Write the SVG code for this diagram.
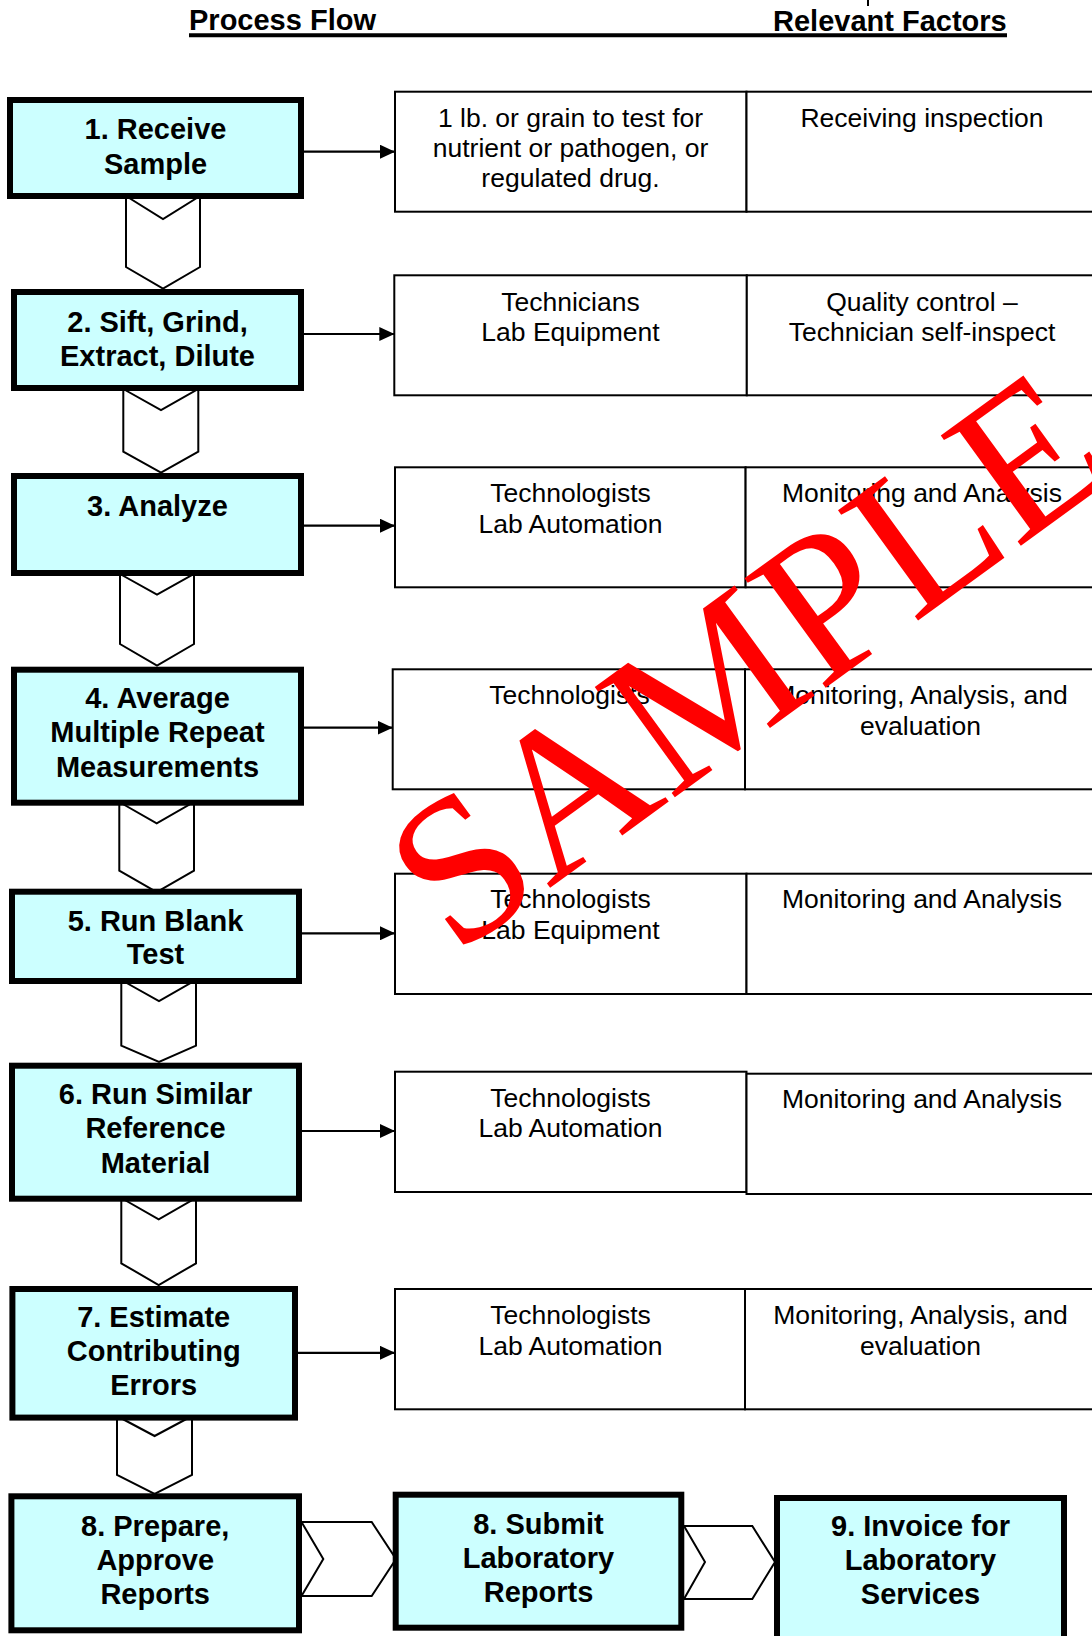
<svg xmlns="http://www.w3.org/2000/svg" width="1092" height="1636" viewBox="0 0 1092 1636">
<style>
.hd{font-family:"Liberation Sans",Arial,sans-serif;font-weight:bold;font-size:29px;fill:#000}
.bx{fill:#CCFFFF;stroke:#000;stroke-width:6}
.bt{font-family:"Liberation Sans",Arial,sans-serif;font-weight:bold;font-size:29px;fill:#000;text-anchor:middle}
.cell{fill:#fff;stroke:#000;stroke-width:2}
.ct{font-family:"Liberation Sans",Arial,sans-serif;font-size:26.5px;fill:#000;text-anchor:middle}
.chev{fill:#fff;stroke:#000;stroke-width:2;stroke-linejoin:miter}
.arr{stroke:#000;stroke-width:2.2;fill:none;marker-end:url(#ah)}
.wm{font-family:"Liberation Serif","Times New Roman",serif;font-size:208px;fill:#FF0000}
</style>
<defs>
<marker id="ah" viewBox="0 0 15 14" refX="15" refY="7" markerWidth="15" markerHeight="14" markerUnits="userSpaceOnUse" orient="auto">
<path d="M0,0 L15,7 L0,14 z" fill="#000"/>
</marker>
</defs>
<rect width="1092" height="1636" fill="#fff"/>

<g id="header">
<text class="hd" x="189" y="29.5">Process Flow</text>
<text class="hd" x="773" y="30.5">Relevant Factors</text>
<line x1="189" y1="35.3" x2="1007" y2="35.3" stroke="#000" stroke-width="4"/>
<line x1="868" y1="0" x2="868" y2="6" stroke="#000" stroke-width="2"/>
</g>

<g id="factors">
<g id="row1">
<rect class="cell" x="395" y="91.7" width="351.5" height="120"/>
<rect class="cell" x="746.5" y="91.7" width="360" height="120"/>
<text class="ct" x="570.5" y="127">1 lb. or grain to test for</text>
<text class="ct" x="570.5" y="157">nutrient or pathogen, or</text>
<text class="ct" x="570.5" y="187">regulated drug.</text>
<text class="ct" x="922" y="127">Receiving inspection</text>
</g>
<g id="row2">
<rect class="cell" x="394.3" y="275.3" width="352.5" height="120"/>
<rect class="cell" x="746.8" y="275.3" width="360" height="120"/>
<text class="ct" x="570.5" y="310.6">Technicians</text>
<text class="ct" x="570.5" y="341.3">Lab Equipment</text>
<text class="ct" x="922" y="310.6">Quality control –</text>
<text class="ct" x="922" y="341.3">Technician self-inspect</text>
</g>
<g id="row3">
<rect class="cell" x="395" y="467.3" width="350.6" height="120"/>
<rect class="cell" x="745.6" y="467.3" width="360" height="120"/>
<text class="ct" x="570.5" y="502.3">Technologists</text>
<text class="ct" x="570.5" y="533.3">Lab Automation</text>
<text class="ct" x="922" y="502.3">Monitoring and Analysis</text>
</g>
<g id="row4">
<rect class="cell" x="392.7" y="669.3" width="352.3" height="120"/>
<rect class="cell" x="745" y="669.3" width="360" height="120"/>
<text class="ct" x="569.5" y="704">Technologists</text>
<text class="ct" x="920.5" y="704">Monitoring, Analysis, and</text>
<text class="ct" x="920.5" y="735">evaluation</text>
</g>
<g id="row5">
<rect class="cell" x="395" y="873.7" width="351.5" height="120.3"/>
<rect class="cell" x="746.5" y="873.7" width="360" height="120.3"/>
<text class="ct" x="570.5" y="908.3">Technologists</text>
<text class="ct" x="570.5" y="939.3">Lab Equipment</text>
<text class="ct" x="922" y="908.3">Monitoring and Analysis</text>
</g>
<g id="row6">
<rect class="cell" x="395" y="1071.7" width="351.5" height="120.3"/>
<rect class="cell" x="746.5" y="1073.7" width="360" height="120.3"/>
<text class="ct" x="570.5" y="1106.7">Technologists</text>
<text class="ct" x="570.5" y="1137">Lab Automation</text>
<text class="ct" x="922" y="1108.3">Monitoring and Analysis</text>
</g>
<g id="row7">
<rect class="cell" x="395" y="1289" width="350" height="120.3"/>
<rect class="cell" x="745" y="1289" width="360" height="120.3"/>
<text class="ct" x="570.5" y="1324.3">Technologists</text>
<text class="ct" x="570.5" y="1355">Lab Automation</text>
<text class="ct" x="920.5" y="1324.3">Monitoring, Analysis, and</text>
<text class="ct" x="920.5" y="1355">evaluation</text>
</g>
</g>

<g id="connectors">
<line class="arr" x1="304" y1="151.7" x2="395" y2="151.7"/>
<line class="arr" x1="304" y1="334" x2="394.3" y2="334"/>
<line class="arr" x1="304" y1="525.7" x2="395" y2="525.7"/>
<line class="arr" x1="304" y1="727.7" x2="392.7" y2="727.7"/>
<line class="arr" x1="302" y1="933.3" x2="395" y2="933.3"/>
<line class="arr" x1="302" y1="1131" x2="395" y2="1131"/>
<line class="arr" x1="298" y1="1352.8" x2="395" y2="1352.8"/>
<polygon class="chev" points="126,196 163,219 200,196 200,267 163,288.5 126,267"/>
<polygon class="chev" points="123.3,389 161,410 198.3,389 198.3,451.7 161,472.7 123.3,451.7"/>
<polygon class="chev" points="120,574 157,594.5 194,574 194,644 157,665.5 120,644"/>
<polygon class="chev" points="119.3,802 156.7,823.3 194,802 194,870.7 156.7,892 119.3,870.7"/>
<polygon class="chev" points="121.3,980 159,1001 196,980 196,1045.7 159,1062 121.3,1045.7"/>
<polygon class="chev" points="121.3,1198 158.7,1219.3 196,1198 196,1263.3 158.7,1285 121.3,1263.3"/>
<polygon class="chev" points="117,1416 154.6,1436 192,1416 192,1475 154.6,1494 117,1475"/>
<polygon class="chev" points="301.5,1522 371.7,1522 396,1559 371.7,1596 301.5,1596 323.3,1559"/>
<polygon class="chev" points="684,1526 752.3,1526 775,1562 752.3,1599 684,1599 705,1562"/>
</g>

<g id="step1">
<rect class="bx" x="10" y="100" width="291" height="96"/>
<text class="bt" x="155.5" y="139">1. Receive</text>
<text class="bt" x="155.5" y="173.5">Sample</text>
</g>
<g id="step2">
<rect class="bx" x="14" y="292" width="287" height="96"/>
<text class="bt" x="157.5" y="331.7">2. Sift, Grind,</text>
<text class="bt" x="157.5" y="366">Extract, Dilute</text>
</g>
<g id="step3">
<rect class="bx" x="14" y="476" width="287" height="97"/>
<text class="bt" x="157.5" y="515.5">3. Analyze</text>
</g>
<g id="step4">
<rect class="bx" x="14" y="669.7" width="287" height="133"/>
<text class="bt" x="157.5" y="708.3">4. Average</text>
<text class="bt" x="157.5" y="742.3">Multiple Repeat</text>
<text class="bt" x="157.5" y="776.7">Measurements</text>
</g>
<g id="step5">
<rect class="bx" x="12" y="891.7" width="287" height="89.3"/>
<text class="bt" x="155.5" y="930.7">5. Run Blank</text>
<text class="bt" x="155.5" y="964.3">Test</text>
</g>
<g id="step6">
<rect class="bx" x="12" y="1065.7" width="287" height="133"/>
<text class="bt" x="155.5" y="1104.3">6. Run Similar</text>
<text class="bt" x="155.5" y="1138.3">Reference</text>
<text class="bt" x="155.5" y="1173.3">Material</text>
</g>
<g id="step7">
<rect class="bx" x="12.4" y="1289" width="282.6" height="128.6"/>
<text class="bt" x="153.7" y="1327">7. Estimate</text>
<text class="bt" x="153.7" y="1361">Contributing</text>
<text class="bt" x="153.7" y="1395">Errors</text>
</g>
<g id="step8a">
<rect class="bx" x="11.4" y="1496.3" width="287.6" height="134"/>
<text class="bt" x="155.2" y="1535.5">8. Prepare,</text>
<text class="bt" x="155.2" y="1570">Approve</text>
<text class="bt" x="155.2" y="1604">Reports</text>
</g>
<g id="step8b">
<rect class="bx" x="395.7" y="1494.7" width="285.6" height="133"/>
<text class="bt" x="538.5" y="1533.5">8. Submit</text>
<text class="bt" x="538.5" y="1567.5">Laboratory</text>
<text class="bt" x="538.5" y="1601.7">Reports</text>
</g>
<g id="step9">
<rect class="bx" x="777" y="1498" width="287" height="150"/>
<text class="bt" x="920.5" y="1536">9. Invoice for</text>
<text class="bt" x="920.5" y="1570">Laboratory</text>
<text class="bt" x="920.5" y="1604">Services</text>
</g>

<text class="wm" transform="translate(455,957) rotate(-36)">SAMPLE</text>
</svg>
